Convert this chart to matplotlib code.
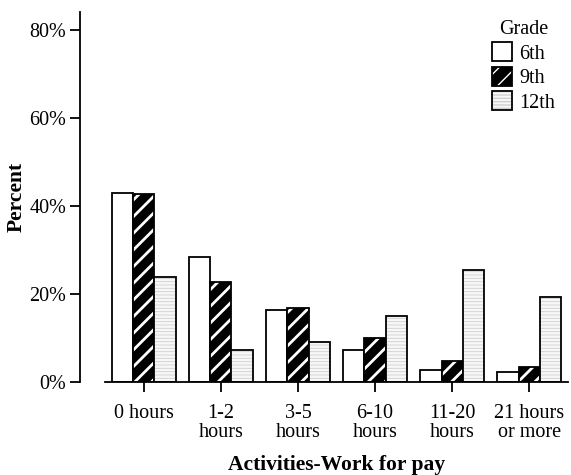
from matplotlib import pyplot as plt
from matplotlib.legend_handler import HandlerTuple
import matplotlib as mpl
import numpy as np

categories = ['0 hours', '1-2\nhours', '3-5\nhours', '6-10\nhours', '11-20\nhours', '21 hours\nor more']
grades = ['6th', '9th', '12th']
sixth = [43.0, 28.4, 16.4, 7.2, 2.7, 2.2]
ninth = [42.6, 22.6, 16.9, 9.9, 4.8, 3.3]
twelfth = [23.9, 7.3, 9.1, 14.9, 25.4, 19.3]

plt.rcParams['font.family'] = ['Liberation Serif', 'DejaVu Serif']
plt.rcParams['font.size'] = 14

fig = plt.figure(figsize=(5.71, 4.75), dpi=100)
ax = fig.add_axes([105 / 571, 1 - 382 / 475, 463 / 571, 370 / 475])

x = np.arange(len(categories))
w = 0.277

# 6th: plain white
b1 = ax.bar(x - w, sixth, w, color='white', edgecolor='black', linewidth=1.3)

# 9th: black with white diagonal stripes
with mpl.rc_context({'hatch.linewidth': 2.0}):
    b2f = ax.bar(x, ninth, w, color='black', edgecolor='white', hatch='//', linewidth=0)
b2o = ax.bar(x, ninth, w, fill=False, edgecolor='black', linewidth=1.3)

# 12th: light dotted lines
with mpl.rc_context({'hatch.linewidth': 0.6}):
    b3f = ax.bar(x + w, twelfth, w, color='#f7f7f7', edgecolor='#cfcfcf', hatch='-----', linewidth=0)
b3o = ax.bar(x + w, twelfth, w, fill=False, edgecolor='black', linewidth=1.3)

ax.set_xlim(-0.5, 5.5)
ax.set_ylim(0, 84)
ax.set_yticks([0, 20, 40, 60, 80])
ax.set_yticklabels(['0%', '20%', '40%', '60%', '80%'])
ax.set_xticks(x)
ax.set_xticklabels(categories, linespacing=1.0)

for s in ['top', 'right']:
    ax.spines[s].set_visible(False)
ax.spines['left'].set_position(('outward', 18))
ax.spines['left'].set_linewidth(1.3)
ax.spines['bottom'].set_linewidth(1.3)
ax.tick_params(axis='both', length=7.5, width=1.3, labelsize=14.5)
ax.tick_params(axis='x', pad=8)
ax.tick_params(axis='y', pad=2.5)

ax.set_ylabel('Percent', fontsize=15.5, fontweight='bold', labelpad=2)
ax.set_xlabel('Activities-Work for pay', fontsize=15.5, fontweight='bold', labelpad=10)

leg = ax.legend([b1[0], (b2f[0], b2o[0]), (b3f[0], b3o[0])], grades,
                handler_map={tuple: HandlerTuple(ndivide=1)},
                title='Grade', loc='upper right', bbox_to_anchor=(0.99, 1.0),
                frameon=False, fontsize=14.5, title_fontsize=14.5,
                handlelength=1.0, handleheight=1.1, handletextpad=0.35,
                labelspacing=0.15, borderaxespad=0.0)

fig.savefig('out.png', dpi=100)
